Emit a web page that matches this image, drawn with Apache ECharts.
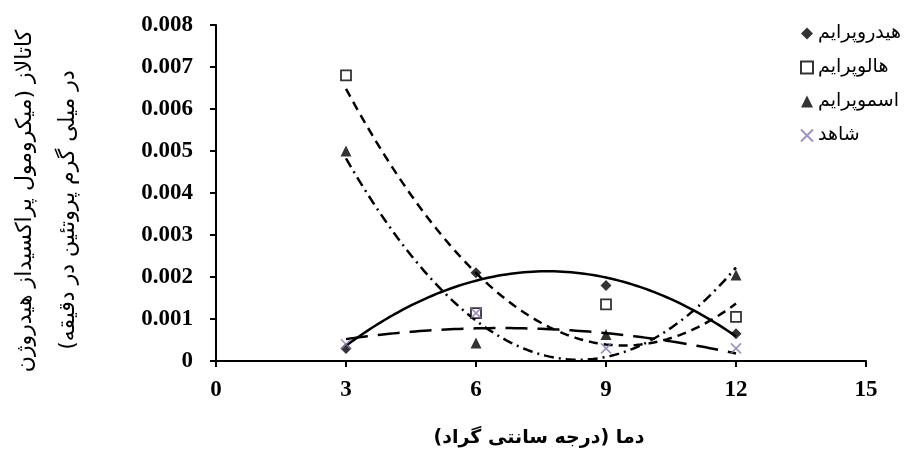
<!DOCTYPE html>
<html>
<head>
<meta charset="utf-8">
<script src="https://cdn.jsdelivr.net/npm/echarts@6/dist/echarts.min.js"></script>
<style>
  html, body { margin: 0; padding: 0; background: #fff; }
  #chart { width: 917px; height: 450px; }
</style>
</head>
<body>
<div id="chart"></div>
<script>
// temperature (x) and catalase activity for each treatment
const temps = [3, 6, 9, 12];
const hydroPrime = [0.0003, 0.0021, 0.0018, 0.00065];
const haloPrime = [0.0068, 0.00114, 0.00135, 0.00105];
const osmoPrime = [0.005, 0.00043, 0.00063, 0.00205];
const control = [0.0004, 0.00114, 0.0003, 0.0003];

const names = ['هیدروپرایم', 'هالوپرایم', 'اسموپرایم', 'شاهد'];
const xTicks = [0, 3, 6, 9, 12, 15];
const yTicks = [0, 0.001, 0.002, 0.003, 0.004, 0.005, 0.006, 0.007, 0.008];

const purple = '#8b73b8';
const serif = '"Liberation Serif", "Times New Roman", serif';
const fa = '"DejaVu Sans", sans-serif';
const RLM = '\u200F'; // keeps the closing parenthesis on the rtl side

// order 2 polynomial trendline (least squares), like the excel one
function polyFit2(xs, ys) {
  let s = [0, 0, 0, 0, 0], t = [0, 0, 0];
  xs.forEach((x, i) => {
    for (let k = 0; k < 5; k++) s[k] += Math.pow(x, k);
    for (let k = 0; k < 3; k++) t[k] += Math.pow(x, k) * ys[i];
  });
  const m = [[s[0], s[1], s[2], t[0]], [s[1], s[2], s[3], t[1]], [s[2], s[3], s[4], t[2]]];
  for (let i = 0; i < 3; i++) {
    for (let j = i + 1; j < 3; j++) {
      const f = m[j][i] / m[i][i];
      for (let k = i; k < 4; k++) m[j][k] -= f * m[i][k];
    }
  }
  const c = [0, 0, 0];
  for (let i = 2; i >= 0; i--) {
    let v = m[i][3];
    for (let k = i + 1; k < 3; k++) v -= m[i][k] * c[k];
    c[i] = v / m[i][i];
  }
  return c;
}

function trend(ys) {
  const c = polyFit2(temps, ys);
  const pts = [];
  for (let x = temps[0]; x <= temps[temps.length - 1] + 1e-9; x += 0.1) {
    pts.push([x, c[0] + c[1] * x + c[2] * x * x]);
  }
  return pts;
}

function pairs(ys) {
  return temps.map((x, i) => [x, ys[i]]);
}

function trendSeries(ys, dash) {
  return {
    type: 'line',
    data: trend(ys),
    showSymbol: false,
    silent: true,
    z: 1,
    lineStyle: { color: '#000', width: 2.5, type: dash }
  };
}

const chart = echarts.init(document.getElementById('chart'));
chart.setOption({
  animation: false,
  grid: { left: 216, right: 51, top: 25, bottom: 89 },
  legend: {
    data: names,
    orient: 'vertical',
    left: 795,
    top: 19,
    itemGap: 15,
    itemWidth: 12,
    itemHeight: 12,
    textStyle: { fontFamily: fa, fontSize: 19, color: '#000' }
  },
  xAxis: {
    type: 'value',
    min: xTicks[0],
    max: xTicks[xTicks.length - 1],
    interval: 3,
    splitLine: { show: false },
    axisLine: { onZero: false, lineStyle: { color: '#000', width: 2 } },
    axisTick: { length: 6, lineStyle: { color: '#000', width: 2 } },
    axisLabel: { margin: 18, color: '#000', fontFamily: serif, fontWeight: 'bold', fontSize: 23 }
  },
  yAxis: {
    type: 'value',
    min: yTicks[0],
    max: yTicks[yTicks.length - 1],
    interval: 0.001,
    splitLine: { show: false },
    axisLine: { show: true, lineStyle: { color: '#000', width: 2 } },
    axisTick: { show: true, length: 6, lineStyle: { color: '#000', width: 2 } },
    axisLabel: { margin: 23, color: '#000', fontFamily: serif, fontWeight: 'bold', fontSize: 23 }
  },
  graphic: [
    {
      type: 'text', x: 25, y: 201, rotation: Math.PI / 2,
      style: { text: RLM + 'کاتالاز (میکرومول پراکسیداز هیدروژن' + RLM, fontFamily: fa, fontSize: 22, fill: '#000', align: 'center', verticalAlign: 'middle' }
    },
    {
      type: 'text', x: 68, y: 210, rotation: Math.PI / 2,
      style: { text: RLM + 'در میلی گرم پروتئین در دقیقه)' + RLM, fontFamily: fa, fontSize: 22, fill: '#000', align: 'center', verticalAlign: 'middle' }
    },
    {
      type: 'text', x: 539, y: 438,
      style: { text: RLM + 'دما (درجه سانتی گراد)' + RLM, fontFamily: fa, fontSize: 19, fontWeight: 'bold', fill: '#000', align: 'center', verticalAlign: 'middle' }
    }
  ],
  series: [
    trendSeries(hydroPrime, 'solid'),
    trendSeries(haloPrime, [9, 6]),
    trendSeries(osmoPrime, [10, 5, 2, 5]),
    trendSeries(control, [22, 10]),
    {
      name: names[0], type: 'scatter', data: pairs(hydroPrime), z: 3,
      symbol: 'diamond', symbolSize: 11,
      itemStyle: { color: '#000' }
    },
    {
      name: names[1], type: 'scatter', data: pairs(haloPrime), z: 3,
      symbol: 'rect', symbolSize: 10,
      itemStyle: { color: '#fff', borderColor: '#000', borderWidth: 1.8 }
    },
    {
      name: names[2], type: 'scatter', data: pairs(osmoPrime), z: 3,
      symbol: 'triangle', symbolSize: 11,
      itemStyle: { color: '#000' }
    },
    {
      name: names[3], type: 'scatter', data: pairs(control), z: 3,
      symbol: 'path://M0,0L10,10M10,0L0,10', symbolSize: 10,
      itemStyle: { color: purple, borderColor: purple, borderWidth: 1.6 }
    }
  ]
});
</script>
</body>
</html>
